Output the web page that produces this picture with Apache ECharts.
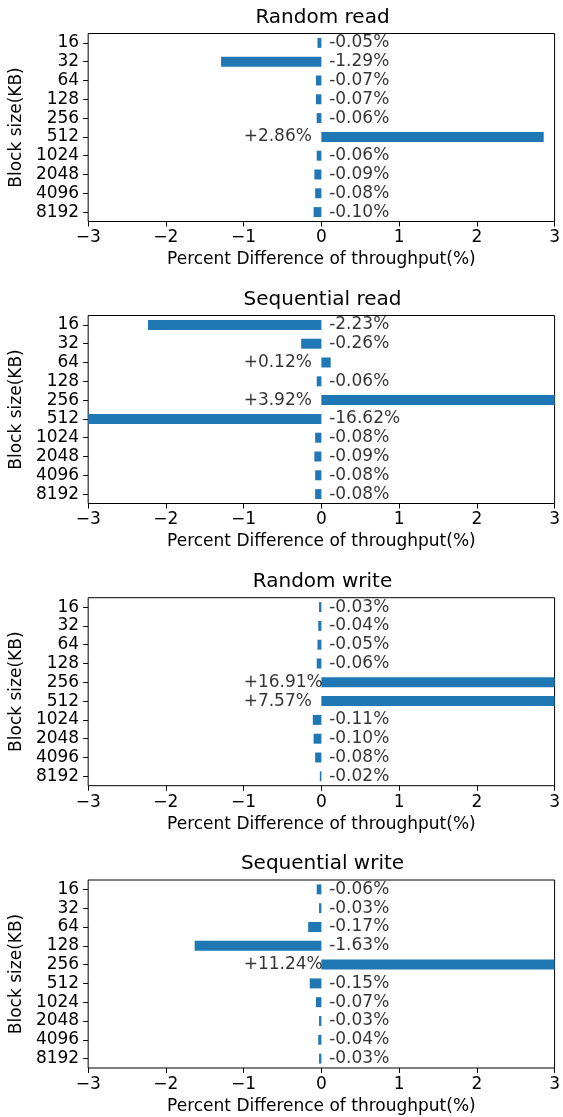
<!DOCTYPE html>
<html>
<head>
<meta charset="utf-8">
<script src="https://cdn.jsdelivr.net/npm/echarts@6/dist/echarts.min.js"></script>
<style>
  html, body { margin: 0; padding: 0; background: #fff; }
  #chart { width: 563px; height: 1117px; }
</style>
</head>
<body>
<div id="chart"></div>
<script>
// Block sizes in KB, top to bottom
const blockSizes = ['16', '32', '64', '128', '256', '512', '1024', '2048', '4096', '8192'];

// Percent difference of throughput (%) per block size
const randomRead      = [-0.05, -1.29, -0.07, -0.07, -0.06, 2.86, -0.06, -0.09, -0.08, -0.10];
const sequentialRead  = [-2.23, -0.26, 0.12, -0.06, 3.92, -16.62, -0.08, -0.09, -0.08, -0.08];
const randomWrite     = [-0.03, -0.04, -0.05, -0.06, 16.91, 7.57, -0.11, -0.10, -0.08, -0.02];
const sequentialWrite = [-0.06, -0.03, -0.17, -1.63, 11.24, -0.15, -0.07, -0.03, -0.04, -0.03];

const panelTitles = ['Random read', 'Sequential read', 'Random write', 'Sequential write'];
const panelData = [randomRead, sequentialRead, randomWrite, sequentialWrite];

// Axis tick values
const xTicks = [-3, -2, -1, 0, 1, 2, 3];

const FONT = 'DejaVu Sans';
const FS = 17;
const BLUE = '#1f77b4';
const plotLeft = 85.7, plotWidth = 473.6, plotHeight = 188;
const plotTops = [33.5, 315.5, 597.7, 880];

// Where value labels are anchored on the x scale (left-aligned text)
const NEG_LABEL_X = 0.1;
const POS_LABEL_X = -1.0;

function fmtPct(v) {
  return (v > 0 ? '+' : '') + v.toFixed(2) + '%';
}
function fmtTick(v) {
  return v < 0 ? '\u2212' + Math.abs(v) : String(v);
}

const grids = [], xAxes = [], yAxes = [], series = [], titles = [];

panelData.forEach((vals, i) => {
  const top = plotTops[i];
  grids.push({
    left: plotLeft, top: top, width: plotWidth, height: plotHeight,
    show: true, borderColor: '#000', borderWidth: 1, backgroundColor: 'transparent',
    containLabel: false
  });
  titles.push({
    text: panelTitles[i],
    left: plotLeft + plotWidth / 2, textAlign: 'center',
    top: top - 26, padding: 0,
    textStyle: { fontFamily: FONT, fontSize: 20, fontWeight: 'normal', color: '#000' }
  });
  xAxes.push({
    type: 'value', gridIndex: i,
    min: xTicks[0], max: xTicks[xTicks.length - 1], interval: 1,
    axisLine: { show: false },
    axisTick: { show: true, length: 5, lineStyle: { color: '#000', width: 1 } },
    axisLabel: { formatter: fmtTick, fontFamily: FONT, fontSize: FS, color: '#000', margin: 8 },
    splitLine: { show: false },
    name: 'Percent Difference of throughput(%)',
    nameLocation: 'middle', nameGap: 30,
    nameTextStyle: { fontFamily: FONT, fontSize: FS, color: '#000' }
  });
  yAxes.push({
    type: 'category', gridIndex: i, data: blockSizes, inverse: true,
    axisLine: { show: false, onZero: false },
    axisTick: { show: true, alignWithLabel: true, length: 5, lineStyle: { color: '#000', width: 1 } },
    axisLabel: { interval: 0, fontFamily: FONT, fontSize: FS, color: '#000', margin: 9 },
    splitLine: { show: false },
    name: 'Block size(KB)',
    nameLocation: 'middle', nameGap: 60, nameRotate: 90,
    nameTextStyle: { fontFamily: FONT, fontSize: FS, color: '#000' }
  });
  series.push({
    type: 'bar', xAxisIndex: i, yAxisIndex: i,
    data: vals, barWidth: '53%', clip: true,
    itemStyle: { color: BLUE },
    silent: true, animation: false
  });
  // Value annotations: negative values sit right of zero, positive ones further left
  series.push({
    type: 'scatter', xAxisIndex: i, yAxisIndex: i,
    symbolSize: 0, clip: false, silent: true, animation: false,
    data: vals.map((v, k) => ({ value: [v < 0 ? NEG_LABEL_X : POS_LABEL_X, blockSizes[k]], raw: v })),
    label: {
      show: true, position: 'right', distance: 0,
      formatter: p => fmtPct(p.data.raw),
      fontFamily: FONT, fontSize: FS, color: '#000'
    },
    z: 5
  });
});

const chart = echarts.init(document.getElementById('chart'), null, { renderer: 'canvas' });
chart.setOption({
  backgroundColor: '#fff',
  animation: false,
  title: titles,
  grid: grids,
  xAxis: xAxes,
  yAxis: yAxes,
  series: series
});
</script>
</body>
</html>
